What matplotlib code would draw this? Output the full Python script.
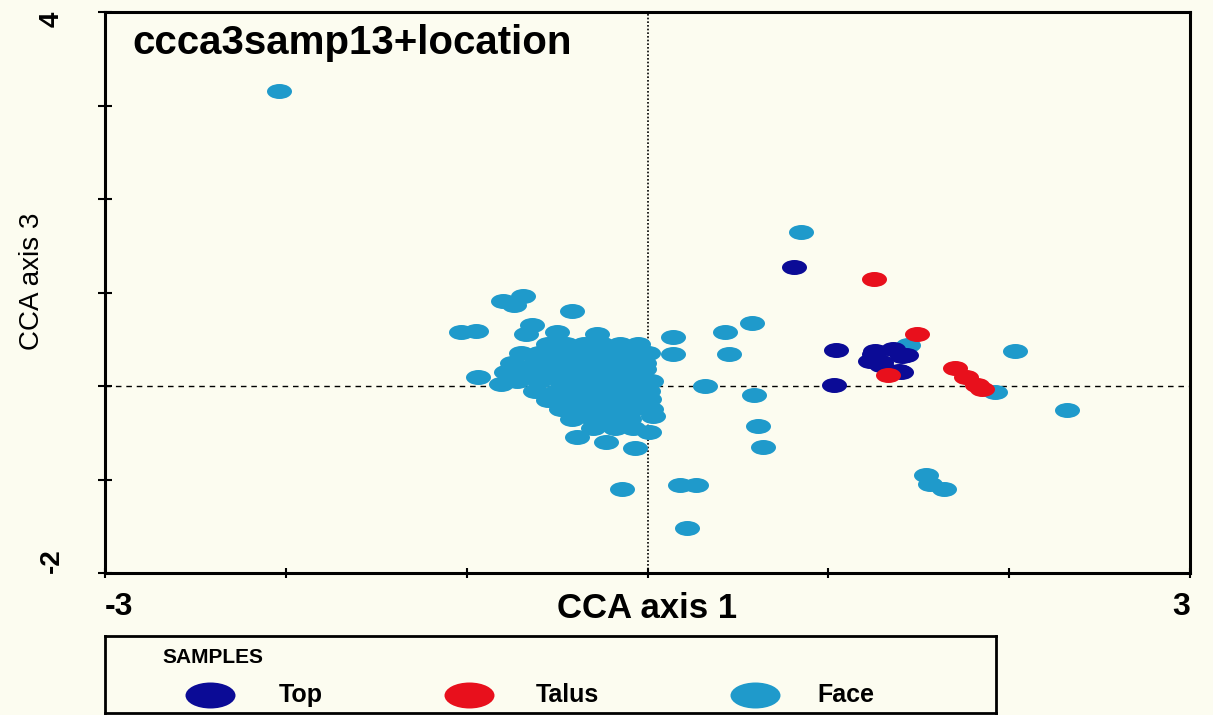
import numpy as np
import matplotlib
matplotlib.use("Agg")
import matplotlib.pyplot as plt
from matplotlib.path import Path
from matplotlib.transforms import Affine2D

plt.rcParams['font.family'] = ['Liberation Sans', 'DejaVu Sans']

# CCA sample scores (axis 1, axis 3)
top_x = [0.81, 1.04, 1.25, 1.29, 1.41, 1.40, 1.03, 1.26, 1.36, 1.43, 1.29, 1.39, 1.23]
top_y = [1.27, 0.38, 0.34, 0.26, 0.32, 0.15, 0.01, 0.37, 0.40, 0.33, 0.22, 0.16, 0.27]

talus_x = [1.25, 1.49, 1.33, 1.70, 1.76, 1.82, 1.85]
talus_y = [1.14, 0.56, 0.12, 0.19, 0.10, 0.01, -0.03]

face_x = [-2.04, 0.85, 0.58, 0.43, 0.14, 0.14, 0.45, 0.32, 0.59, 0.61, 0.64,
          1.44, 1.92, 2.03, 2.32, 1.54, 1.56, 1.64, 0.18, 0.27, 0.22, -0.14,
          -0.80, -0.69, -0.74, -0.42, -1.03, -0.95, -0.64, -0.67, -0.50, -0.28,
          -0.06, -0.94, -0.81, -0.39, -0.23, -0.07, 0.03, 0.01, -0.02, 0.01,
          # dense cluster near the origin
          -0.55, -0.45, -0.35, -0.25, -0.15, -0.05,
          -0.70, -0.60, -0.50, -0.40, -0.30, -0.20, -0.10, 0.00,
          -0.75, -0.62, -0.52, -0.42, -0.32, -0.22, -0.12, -0.02,
          -0.78, -0.66, -0.55, -0.45, -0.35, -0.25, -0.15, -0.05,
          -0.72, -0.60, -0.48, -0.38, -0.28, -0.18, -0.08, 0.02,
          -0.62, -0.50, -0.40, -0.30, -0.20, -0.10, 0.00,
          -0.55, -0.45, -0.35, -0.25, -0.15, -0.05,
          -0.48, -0.38, -0.28, -0.18, -0.08, 0.02,
          -0.42, -0.30, -0.20, -0.10,
          -0.30, -0.18, -0.08]
face_y = [3.16, 1.65, 0.67, 0.58, 0.52, 0.34, 0.34, 0.00, -0.10, -0.43, -0.65,
          0.44, -0.06, 0.37, -0.26, -0.95, -1.05, -1.10, -1.06, -1.06, -1.52, -1.10,
          0.91, 0.96, 0.87, 0.80, 0.58, 0.59, 0.65, 0.56, 0.58, 0.56,
          0.43, 0.10, 0.02, -0.55, -0.60, -0.66, -0.32, -0.49, 0.18, -0.14,
          0.45, 0.45, 0.45, 0.45, 0.45, 0.45,
          0.35, 0.35, 0.35, 0.35, 0.35, 0.35, 0.35, 0.35,
          0.25, 0.25, 0.25, 0.25, 0.25, 0.25, 0.25, 0.25,
          0.15, 0.15, 0.15, 0.15, 0.15, 0.15, 0.15, 0.15,
          0.05, 0.05, 0.05, 0.05, 0.05, 0.05, 0.05, 0.05,
          -0.05, -0.05, -0.05, -0.05, -0.05, -0.05, -0.05,
          -0.15, -0.15, -0.15, -0.15, -0.15, -0.15,
          -0.25, -0.25, -0.25, -0.25, -0.25, -0.25,
          -0.35, -0.35, -0.35, -0.35,
          -0.45, -0.45, -0.45]

groups = ['Top', 'Talus', 'Face']
colors = ['#0b0b96', '#e8101c', '#1f9acb']
bg = '#fcfcf0'

# flattened ellipse marker (the original points are wider than tall)
circ = Path.unit_circle()
ell = Path(Affine2D().scale(1.0, 0.6).transform(circ.vertices), circ.codes)
ell_leg = Path(Affine2D().scale(1.0, 0.52).transform(circ.vertices), circ.codes)

fig = plt.figure(figsize=(12.13, 7.15), dpi=100, facecolor=bg)
ax = fig.add_axes([105/1213, 142/715, 1085/1213, 561/715])
ax.set_facecolor(bg)

ax.axhline(0, color='black', lw=1.0, ls=(0, (4, 3.5)), zorder=1)
ax.axvline(0, color='black', lw=1.2, ls=(0, (1, 1.2)), zorder=1)

ax.scatter(face_x, face_y, s=18**2, marker=ell, color=colors[2], linewidths=0, zorder=2)
ax.scatter(top_x, top_y, s=18**2, marker=ell, color=colors[0], linewidths=0, zorder=3)
ax.scatter(talus_x, talus_y, s=18**2, marker=ell, color=colors[1], linewidths=0, zorder=4)

ax.set_xlim(-3, 3)
ax.set_ylim(-2, 4)
for sp in ax.spines.values():
    sp.set_linewidth(2.2)

ax.set_xticks(range(-3, 4))
ax.set_xticklabels(['-3', '', '', '', '', '', '3'], fontsize=23, fontweight='bold')
ax.set_yticks(range(-2, 5))
ax.set_yticklabels(['-2', '', '', '', '', '', '4'], fontsize=20, fontweight='bold',
                   rotation=90)
ax.tick_params(axis='x', direction='inout', length=7, width=1.5, pad=10)
ax.tick_params(axis='y', direction='inout', length=10, width=1.5, pad=24)
xl = ax.get_xticklabels()
xl[0].set_ha('left')
xl[-1].set_ha('right')
yl = ax.get_yticklabels()
yl[0].set_va('bottom')
yl[-1].set_va('top')

ax.set_xlabel('CCA axis 1', fontsize=25, fontweight='bold')
ax.xaxis.set_label_coords(0.5, -0.033)
ax.set_ylabel('CCA axis 3', fontsize=20)
ax.yaxis.set_label_coords(-0.055, 0.52)

ax.text(0.025, 0.978, 'ccca3samp13+location', transform=ax.transAxes,
        fontsize=29, fontweight='bold', ha='left', va='top')

# legend box along the bottom edge
lax = fig.add_axes([105/1213, 2/715, 891/1213, 77/715])
lax.set_facecolor(bg)
lax.set_xlim(0, 1)
lax.set_ylim(0, 1)
lax.set_xticks([])
lax.set_yticks([])
for sp in lax.spines.values():
    sp.set_linewidth(2.0)
lax.text(0.065, 0.72, 'SAMPLES', fontsize=15, fontweight='bold', ha='left', va='center')
mark_x = [0.118, 0.408, 0.729]
text_x = [0.195, 0.483, 0.80]
for g, c, mx, tx in zip(groups, colors, mark_x, text_x):
    lax.plot([mx], [0.24], marker=ell_leg, ms=36, color=c, mew=0, ls='none')
    lax.text(tx, 0.24, g, fontsize=18, fontweight='bold', ha='left', va='center')

fig.savefig('out.png', dpi=100, facecolor=bg)
